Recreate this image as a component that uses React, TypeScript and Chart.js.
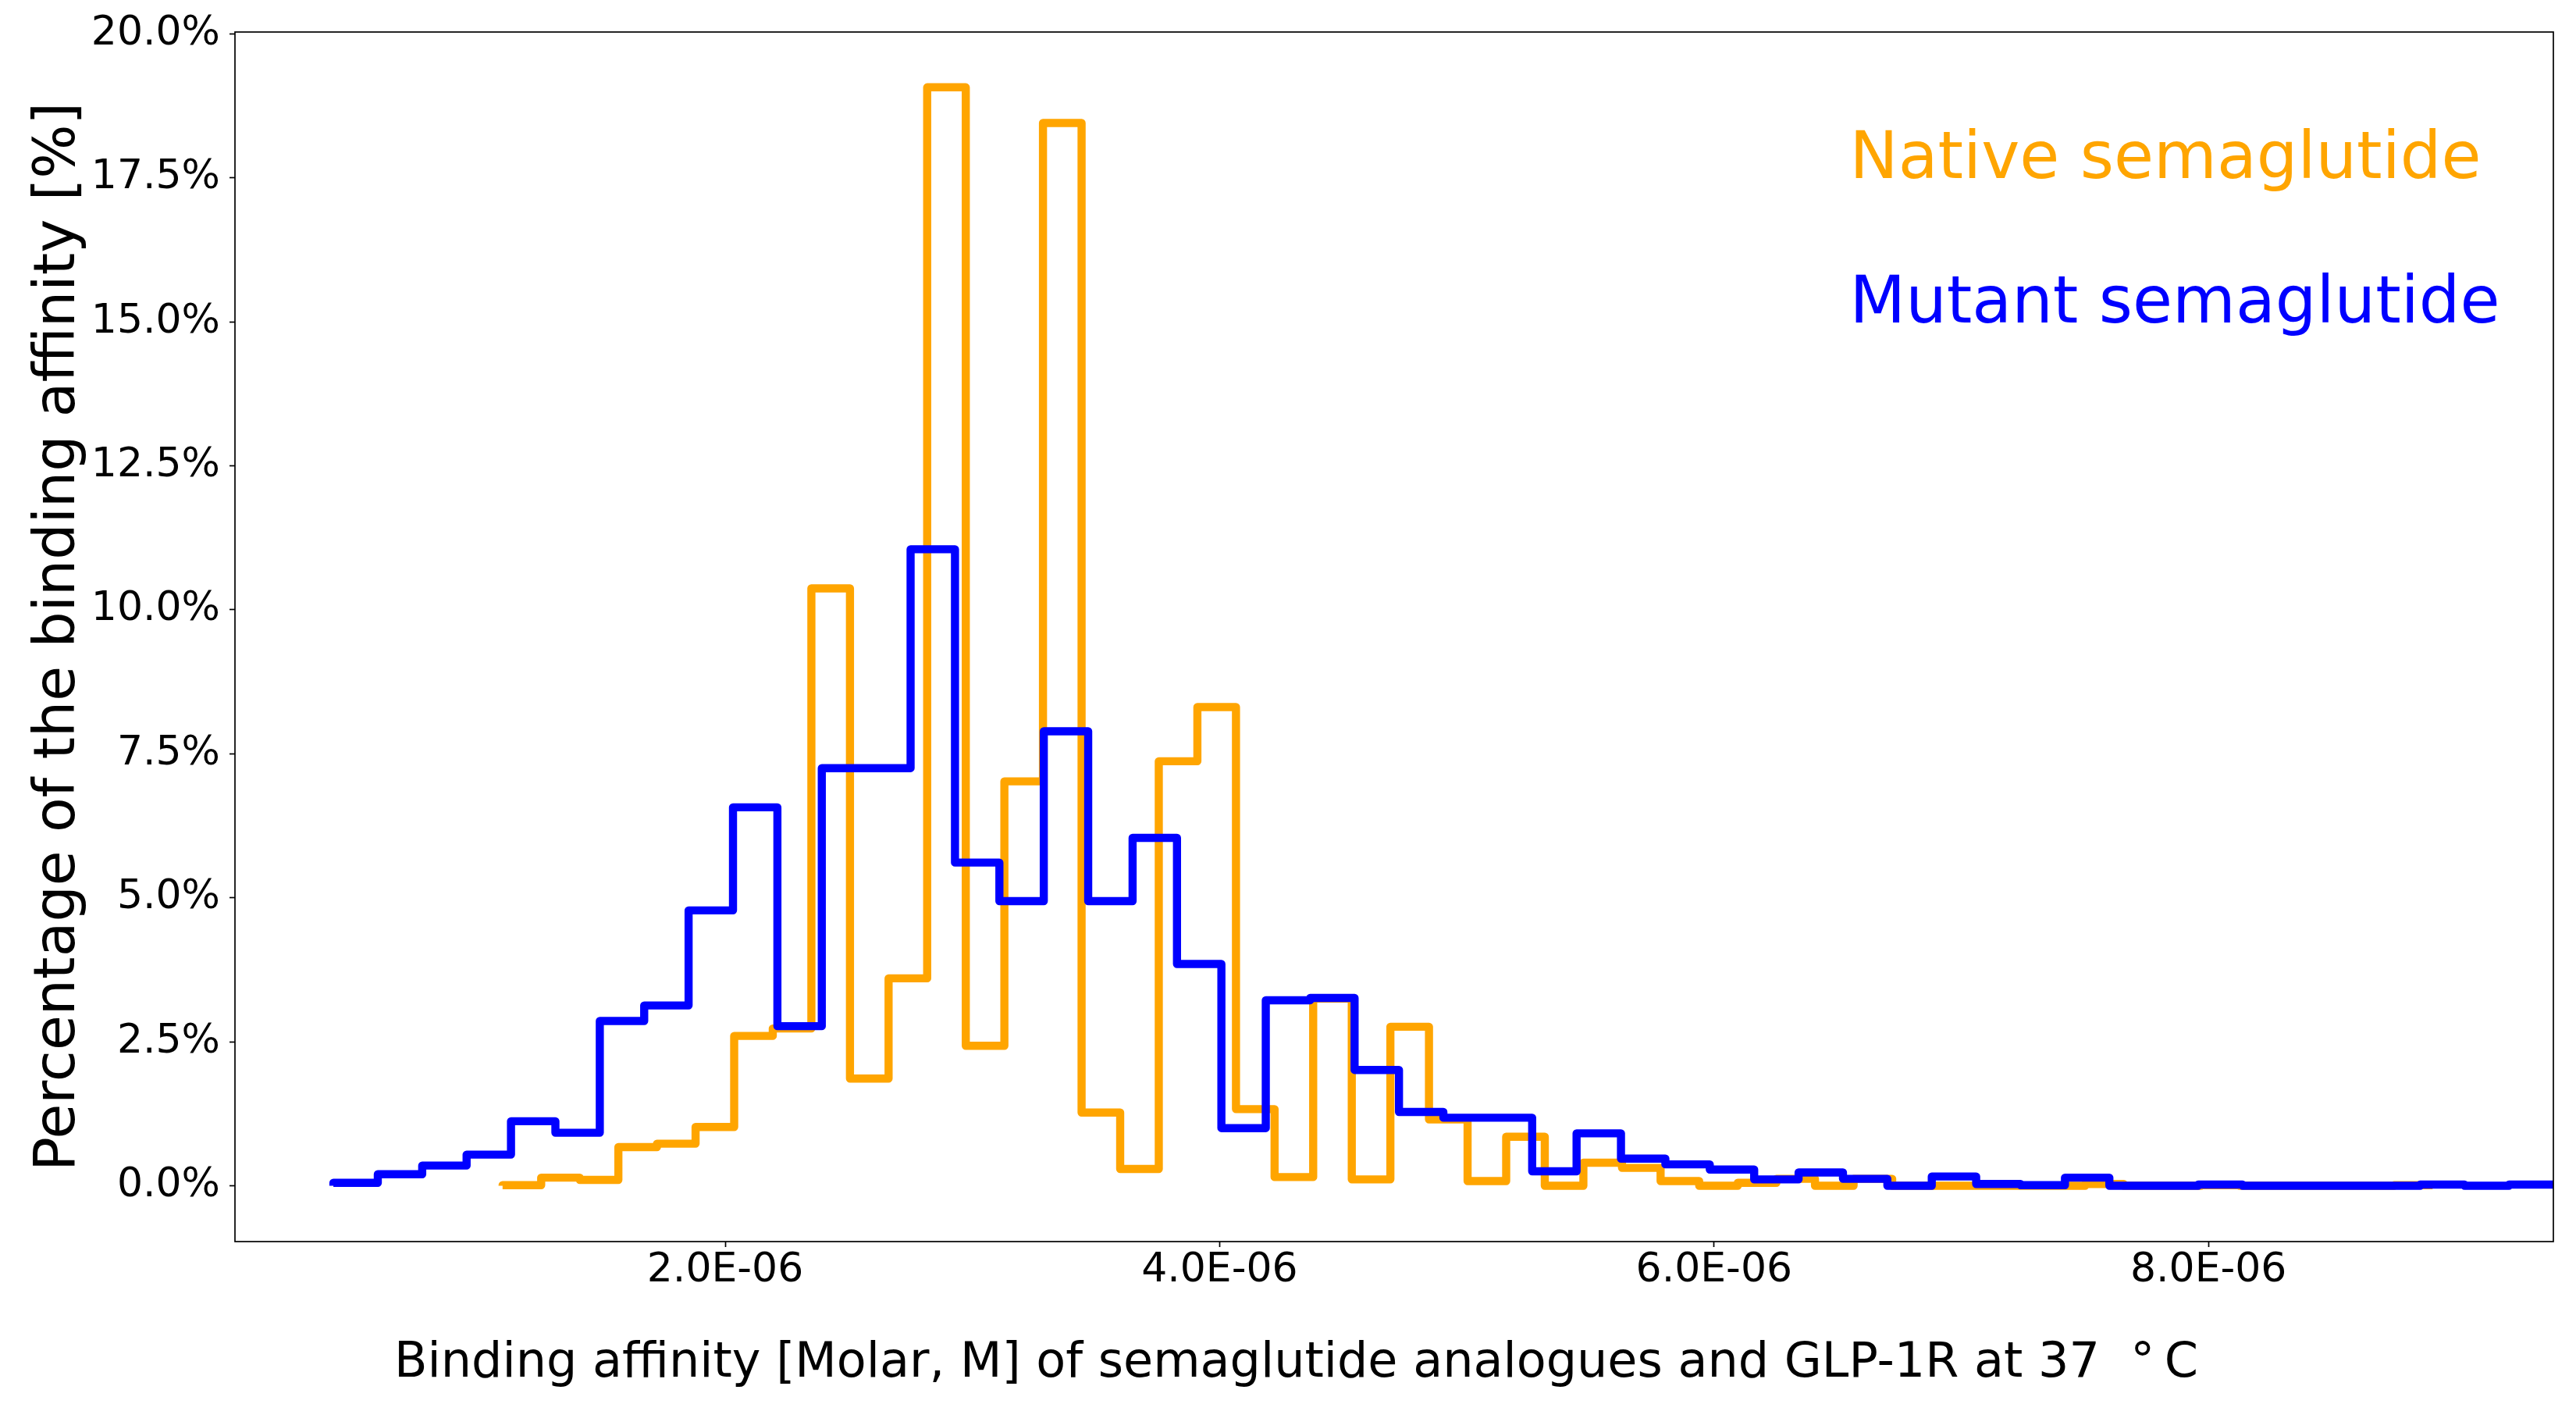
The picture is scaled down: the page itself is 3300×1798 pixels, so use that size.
import { useEffect, useRef } from "react"
import { Chart, registerables } from "chart.js"

Chart.register(...registerables)

// histogram heights in percent, 50 bins each
const nativeValues = [
  0.01, 0.14, 0.1, 0.67, 0.73, 1.02, 2.6, 2.73, 10.37, 1.86,
  3.6, 19.07, 2.43, 7.02, 18.45, 1.27, 0.29, 7.37, 8.31, 1.33,
  0.15, 3.25, 0.11, 2.76, 1.15, 0.08, 0.85, 0.0, 0.4, 0.31,
  0.08, 0.0, 0.05, 0.12, 0.0, 0.12, 0.0, 0.0, 0.0, 0.0,
  0.0, 0.03, 0.0, 0.0, 0.01, 0.0, 0.0, 0.0, 0.0, 0.01,
]
const mutantValues = [
  0.05, 0.2, 0.35, 0.54, 1.12, 0.92, 2.86, 3.13, 4.78, 6.57,
  2.77, 7.25, 7.25, 11.05, 5.61, 4.94, 7.89, 4.94, 6.04, 3.85,
  1.0, 3.22, 3.26, 2.01, 1.28, 1.18, 1.18, 0.25, 0.91, 0.47,
  0.37, 0.28, 0.11, 0.23, 0.12, 0.0, 0.16, 0.03, 0.01, 0.14,
  0.0, 0.0, 0.02, 0.0, 0.0, 0.0, 0.0, 0.02, 0.0, 0.02,
]
// bin range [first edge, last edge] in molar
const nativeRange = [1.0995e-6, 8.9065e-6]
const mutantRange = [0.4152e-6, 9.395e-6]

const seriesNames = ["Native semaglutide", "Mutant semaglutide"]
const xTicks = [2e-6, 4e-6, 6e-6, 8e-6]
const yTicks = [0, 2.5, 5, 7.5, 10, 12.5, 15, 17.5, 20]
const xLimits = [0.017e-6, 9.395e-6]
const yLimits = [-0.97, 20.03]

const xTitle = "Binding affinity [Molar, M] of semaglutide analogues and GLP-1R at 37  \u00b0\u2009C"
const yTitle = "Percentage of the binding affinity [%]"

const FONT = "'DejaVu Sans', 'Liberation Sans', sans-serif"
const ORANGE = "#FFA500"
const BLUE = "#0000FF"

// outline of a step histogram, like matplotlib histtype="step"
function stepOutline(values: number[], range: number[]) {
  const binWidth = (range[1] - range[0]) / values.length
  const pts = [{ x: range[0], y: 0 }]
  values.forEach((v, i) => pts.push({ x: range[0] + i * binWidth, y: v }))
  pts.push({ x: range[1], y: values[values.length - 1] })
  pts.push({ x: range[1], y: 0 })
  return pts
}

function sciLabel(v: number) {
  const [m, e] = v.toExponential(1).split("e")
  const n = parseInt(e, 10)
  return m + "E" + (n < 0 ? "-" : "+") + String(Math.abs(n)).padStart(2, "0")
}

const frameAndText = {
  id: "frameAndText",
  afterDraw(chart: any) {
    const { ctx, chartArea: a } = chart
    const w = a.right - a.left
    const h = a.bottom - a.top
    ctx.save()
    ctx.strokeStyle = "#000"
    ctx.lineWidth = 1.7
    ctx.strokeRect(a.left, a.top, w, h)

    ctx.textBaseline = "alphabetic"
    ctx.textAlign = "left"
    ctx.font = `83px ${FONT}`
    ctx.fillStyle = ORANGE
    ctx.fillText(seriesNames[0], a.left + 0.6965 * w, a.top + 0.1207 * h)
    ctx.fillStyle = BLUE
    ctx.fillText(seriesNames[1], a.left + 0.6965 * w, a.top + 0.2402 * h)

    ctx.fillStyle = "#000"
    ctx.font = `62px ${FONT}`
    ctx.fillText(xTitle, 505, 1763)

    ctx.translate(95, (a.top + a.bottom) / 2)
    ctx.rotate(-Math.PI / 2)
    ctx.textAlign = "center"
    ctx.font = `73px ${FONT}`
    ctx.fillText(yTitle, 0, 0)
    ctx.restore()
  },
}

export default function App() {
  const canvasRef = useRef<HTMLCanvasElement>(null)
  const chartRef = useRef<Chart | null>(null)

  useEffect(() => {
    document.body.style.margin = "0"
    if (!canvasRef.current) return
    const ctx = canvasRef.current.getContext("2d")
    if (!ctx) return
    if (chartRef.current) chartRef.current.destroy()

    const tickGrid = {
      display: true,
      drawOnChartArea: false,
      drawTicks: true,
      tickLength: 7,
      tickWidth: 1.7,
      tickColor: "#000",
    }

    chartRef.current = new Chart(ctx, {
      type: "line",
      data: {
        datasets: [
          {
            label: seriesNames[0],
            data: stepOutline(nativeValues, nativeRange),
            borderColor: ORANGE,
            backgroundColor: ORANGE,
            borderWidth: 10.4,
            borderJoinStyle: "round",
            stepped: "before",
            pointRadius: 0,
            fill: false,
            clip: 0,
            order: 2,
          },
          {
            label: seriesNames[1],
            data: stepOutline(mutantValues, mutantRange),
            borderColor: BLUE,
            backgroundColor: BLUE,
            borderWidth: 10.4,
            borderJoinStyle: "round",
            stepped: "before",
            pointRadius: 0,
            fill: false,
            clip: 0,
            order: 1,
          },
        ],
      },
      options: {
        animation: false,
        responsive: false,
        layout: { padding: { top: 41, right: 29, left: 0, bottom: 0 } },
        plugins: {
          legend: { display: false },
          tooltip: { enabled: false },
        },
        scales: {
          x: {
            type: "linear",
            min: xLimits[0],
            max: xLimits[1],
            afterBuildTicks: (scale: any) => {
              scale.ticks = xTicks.map((value) => ({ value }))
            },
            afterFit: (scale: any) => {
              scale.height = 208
              scale.paddingLeft = 0
              scale.paddingRight = 0
            },
            ticks: {
              autoSkip: false,
              maxRotation: 0,
              padding: -1,
              color: "#000",
              font: { family: FONT, size: 52 },
              callback: (v: any) => sciLabel(Number(v)),
            },
            grid: tickGrid,
            border: { display: false },
          },
          y: {
            type: "linear",
            min: yLimits[0],
            max: yLimits[1],
            afterBuildTicks: (scale: any) => {
              scale.ticks = yTicks.map((value) => ({ value }))
            },
            afterFit: (scale: any) => {
              scale.width = 301
              scale.paddingTop = 0
              scale.paddingBottom = 0
            },
            ticks: {
              autoSkip: false,
              padding: 12,
              color: "#000",
              font: { family: FONT, size: 52 },
              callback: (v: any) => Number(v).toFixed(1) + "%",
            },
            grid: tickGrid,
            border: { display: false },
          },
        },
      },
      plugins: [frameAndText],
    })

    return () => {
      if (chartRef.current) {
        chartRef.current.destroy()
        chartRef.current = null
      }
    }
  }, [])

  return (
    <div style={{ width: 3300, height: 1798, background: "#fff" }}>
      <canvas ref={canvasRef} width={3300} height={1798} style={{ display: "block" }} />
    </div>
  )
}
